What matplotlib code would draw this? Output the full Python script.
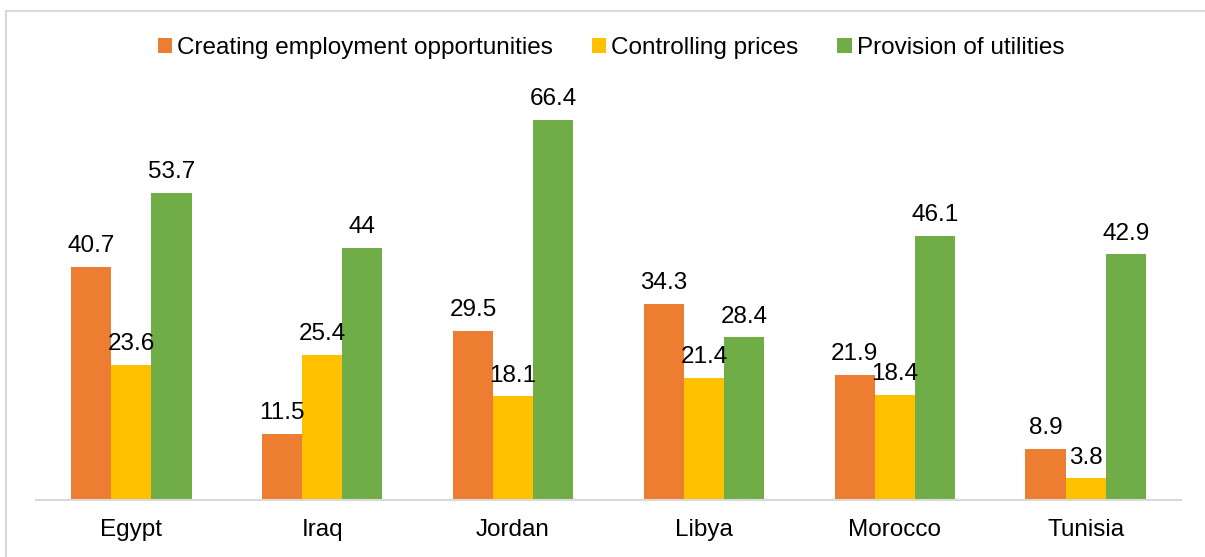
import matplotlib
matplotlib.use("Agg")
import matplotlib.pyplot as plt
from matplotlib.lines import Line2D
import numpy as np

plt.rcParams['font.family'] = ['Liberation Sans', 'DejaVu Sans']

countries = ["Egypt", "Iraq", "Jordan", "Libya", "Morocco", "Tunisia"]
series_names = ["Creating employment opportunities", "Controlling prices", "Provision of utilities"]
employment = [40.7, 11.5, 29.5, 34.3, 21.9, 8.9]
prices = [23.6, 25.4, 18.1, 21.4, 18.4, 3.8]
utilities = [53.7, 44, 66.4, 28.4, 46.1, 42.9]
colors = ["#ED7D31", "#FFC000", "#70AD47"]

W, H = 1205, 557
FS = 17.5
fig = plt.figure(figsize=(W / 100, H / 100), dpi=100)
border = "#D9D9D9"
fig.lines.append(Line2D([6 / W, 6 / W], [0, 1 - 11 / H], transform=fig.transFigure,
                        color=border, linewidth=1.5))
fig.lines.append(Line2D([6 / W, 1], [1 - 11 / H, 1 - 11 / H], transform=fig.transFigure,
                        color=border, linewidth=1.5))

ax = fig.add_axes([36 / W, 1 - 500 / H, (1181 - 36) / W, (500 - 99.4) / H])
x = np.arange(len(countries))
bw = 0.21
series = [employment, prices, utilities]
handles = []
for i, (vals, col, name) in enumerate(zip(series, colors, series_names)):
    bars = ax.bar(x + (i - 1) * bw, vals, width=bw, color=col, label=name, zorder=2)
    handles.append(bars)
    for xi, v in zip(x + (i - 1) * bw, vals):
        lbl = f"{v:g}"
        ax.annotate(lbl, (xi, v), xytext=(0, 7), textcoords="offset points",
                    ha="center", va="bottom", fontsize=FS, color="#000000")

ax.set_xlim(-0.5, len(countries) - 0.5)
ax.set_ylim(0, 70)
ax.set_yticks([])
for s in ["top", "right", "left"]:
    ax.spines[s].set_visible(False)
ax.spines["bottom"].set_color(border)
ax.spines["bottom"].set_linewidth(1.5)
ax.set_xticks(x)
ax.set_xticklabels(countries, fontsize=FS)
ax.tick_params(axis="x", length=0, pad=13.5)

fig.legend(handles=handles, labels=series_names, loc="center", bbox_to_anchor=(611 / W, 1 - 48 / H),
           ncol=3, frameon=False, fontsize=FS, handlelength=0.6, handleheight=0.6,
           handletextpad=0.2, columnspacing=1.6)

fig.savefig("out.png", dpi=100)
